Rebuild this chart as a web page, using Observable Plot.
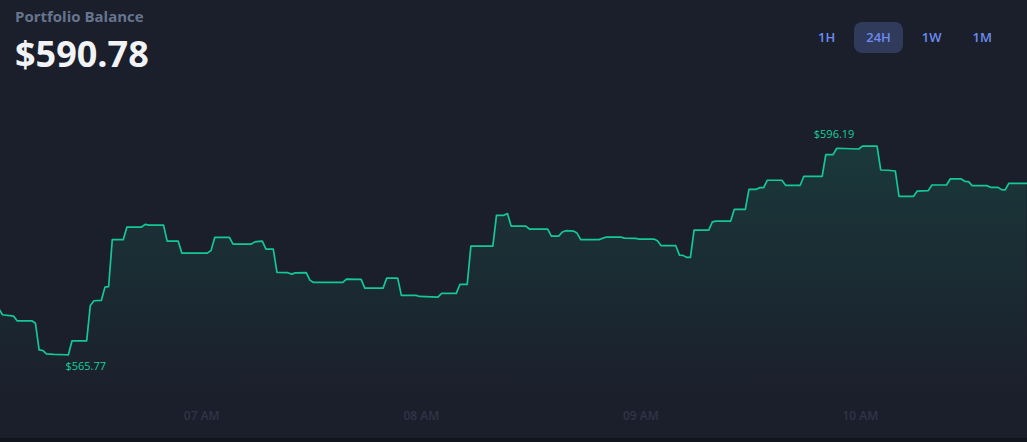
<!DOCTYPE html>
<html>
<head>
<meta charset="utf-8">
<script src="https://cdn.jsdelivr.net/npm/d3@7"></script>
<script src="https://cdn.jsdelivr.net/npm/@observablehq/plot@0.6"></script>
<style>
  html, body { margin: 0; padding: 0; background: #12151d; }
  #card { position: relative; width: 1027px; height: 438px; background: #1b1f2b; overflow: hidden; font-family: "Open Sans", sans-serif; }
  #title { position: absolute; left: 15px; top: 6px; font-size: 15px; line-height: 20px; font-weight: 700; color: #66748f; }
  #value { position: absolute; left: 15px; top: 34px; font-size: 36px; line-height: 40px; font-weight: 700; color: #f1f3f6; }
  #ranges { position: absolute; top: 22px; right: 23px; display: flex; gap: 7px; }
  .btn { height: 31px; line-height: 31px; padding: 0 12px; font-size: 13px; font-weight: 600; color: #6b8bf0; border-radius: 8px; }
  .btn.active { background: #303a5a; }
  #chart { position: absolute; left: 0; top: 0; }
</style>
</head>
<body>
<div id="card">
  <div id="chart"></div>
  <div id="title">Portfolio Balance</div>
  <div id="value"></div>
  <div id="ranges"></div>
</div>
<script>
// ---- data (timestamps of vertices, balance in USD) ----
const times = [
  "06:04:33","06:05:33","06:08:33","06:09:33","06:13:33","06:14:33","06:15:33","06:16:33","06:17:33","06:19:33",
  "06:22:33","06:23:33","06:24:33","06:28:33","06:29:33","06:30:33","06:32:33","06:33:33","06:34:33","06:35:33",
  "06:38:33","06:39:33","06:43:33","06:44:33","06:45:33","06:49:33","06:50:33","06:53:33","06:54:33","07:01:33",
  "07:02:33","07:03:33","07:07:33","07:08:33","07:13:33","07:14:33","07:15:33","07:16:33","07:17:33","07:19:33",
  "07:20:33","07:23:33","07:24:33","07:25:33","07:28:33","07:29:33","07:30:33","07:38:33","07:39:33","07:43:33",
  "07:44:33","07:49:33","07:50:33","07:53:33","07:54:33","07:58:33","07:59:33","08:04:33","08:05:33","08:09:33",
  "08:10:33","08:12:33","08:13:33","08:19:33","08:20:33","08:22:33","08:23:33","08:24:33","08:28:33","08:29:33",
  "08:34:33","08:35:33","08:37:33","08:38:33","08:39:33","08:41:33","08:42:33","08:43:33","08:48:33","08:50:33",
  "08:54:33","08:55:33","08:58:33","08:59:33","09:03:33","09:04:33","09:05:33","09:09:33","09:10:33","09:11:33",
  "09:12:33","09:13:33","09:14:33","09:18:33","09:19:33","09:20:33","09:24:33","09:25:33","09:28:33","09:29:33",
  "09:31:33","09:32:33","09:33:33","09:34:33","09:38:33","09:39:33","09:43:33","09:44:33","09:49:33","09:50:33",
  "09:52:33","09:53:33","09:59:33","10:00:33","10:04:33","10:05:33","10:07:33","10:09:33","10:10:33","10:14:33",
  "10:15:33","10:18:33","10:19:33","10:23:33","10:24:33","10:27:33","10:28:33","10:29:33","10:30:33","10:34:33",
  "10:35:33","10:37:33","10:38:33","10:39:33","10:40:33","10:45:33"
];
const balances = [
  572.50,571.61,571.41,570.73,570.73,570.38,566.50,566.40,565.92,565.84,
  565.78,565.77,567.81,567.81,572.97,573.65,573.70,575.64,575.70,582.56,
  582.56,584.40,584.40,584.79,584.69,584.69,582.35,582.35,580.60,580.60,
  581.00,582.89,582.89,581.92,581.92,582.24,582.32,582.35,581.19,581.19,
  577.78,577.74,577.54,577.71,577.74,576.66,576.32,576.32,576.81,576.76,
  575.49,575.49,576.95,576.95,574.43,574.43,574.28,574.18,574.72,574.72,
  576.03,576.03,581.62,581.62,586.11,586.11,586.37,584.54,584.54,584.11,
  584.11,583.08,583.08,583.67,583.87,583.81,583.52,582.56,582.56,582.94,
  582.94,582.79,582.75,582.65,582.65,582.41,581.68,581.68,580.31,580.27,
  579.97,579.97,583.95,583.95,585.16,585.27,585.27,586.98,586.98,589.90,
  589.90,590.15,590.15,591.22,591.22,590.49,590.49,591.80,591.80,594.97,
  594.97,595.89,595.78,596.19,596.19,592.72,592.68,592.57,588.88,588.88,
  589.65,589.71,590.53,590.53,591.41,591.41,591.07,591.03,590.44,590.44,
  590.19,590.19,589.86,589.80,590.78,590.78
];
const viewStart = "06:05:00";
const viewEnd = "10:45:40";
const rangeLabels = ["1H", "24H", "1W", "1M"];
const activeRange = "24H";
const currentBalance = 590.78;
const titleText = "Portfolio Balance";

// ---- build ----
const parse = d3.utcParse("%H:%M:%S");
const data = times.map((t, i) => ({t: parse(t), v: balances[i]}));
const fmt = v => "$" + v.toFixed(2);

document.getElementById("title").textContent = titleText;
document.getElementById("value").textContent = fmt(currentBalance);
const rg = document.getElementById("ranges");
for (const r of rangeLabels) {
  const b = document.createElement("div");
  b.className = "btn" + (r === activeRange ? " active" : "");
  b.textContent = r;
  rg.appendChild(b);
}

const vMin = d3.min(balances), vMax = d3.max(balances);
const pad = (vMax - vMin) * 0.219;
const lo = vMin - pad, hi = vMax + pad;
const minPt = data[d3.minIndex(data, d => d.v)];
const maxPt = data[d3.maxIndex(data, d => d.v)];

const green = "#14c795";

const defs = () => {
  const d = d3.create("svg:defs");
  const g = d.append("linearGradient").attr("id", "areaGrad")
    .attr("x1", 0).attr("y1", 0).attr("x2", 0).attr("y2", 1);
  g.append("stop").attr("offset", "0%").attr("stop-color", green).attr("stop-opacity", 0.15);
  g.append("stop").attr("offset", "100%").attr("stop-color", green).attr("stop-opacity", 0);
  return d.node();
};

const chart = Plot.plot({
  width: 1027,
  height: 438,
  marginTop: 100,
  marginBottom: 38,
  marginLeft: 0,
  marginRight: 0,
  style: {background: "transparent", color: "#2f3548", fontFamily: "Open Sans, sans-serif", fontSize: "12px", overflow: "visible"},
  x: {type: "utc", domain: [parse(viewStart), parse(viewEnd)], label: null},
  y: {domain: [lo, hi], axis: null},
  marks: [
    defs,
    Plot.areaY(data, {x: "t", y1: lo, y2: "v", fill: "url(#areaGrad)", clip: true}),
    Plot.lineY(data, {x: "t", y: "v", stroke: green, strokeWidth: 1.7, clip: true}),
    Plot.axisX({ticks: d3.utcHour.every(1), tickFormat: d3.utcFormat("%I %p"), tickSize: 0, tickPadding: 11, fontWeight: 600, fill: "#2f3548", label: null}),
    Plot.text([minPt], {x: "t", y: "v", text: d => fmt(d.v), textAnchor: "start", dx: -3, dy: 12, fill: "#16d09a", fontSize: 11}),
    Plot.text([maxPt], {x: "t", y: "v", text: d => fmt(d.v), textAnchor: "end", dx: -8, dy: -12, fill: "#16d09a", fontSize: 11})
  ]
});
document.getElementById("chart").appendChild(chart);
</script>
</body>
</html>
